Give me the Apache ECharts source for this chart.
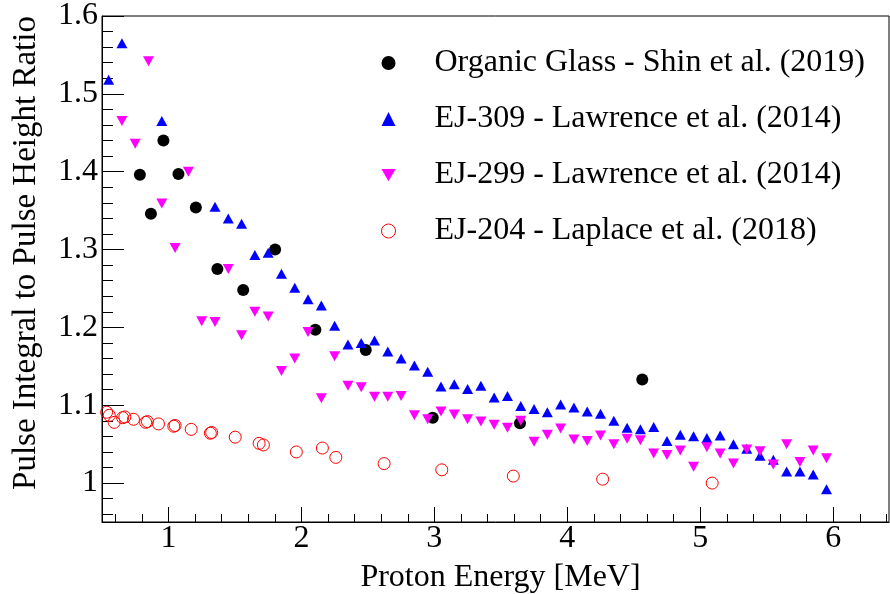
<!DOCTYPE html>
<html>
<head>
<meta charset="utf-8">
<script src="https://cdn.jsdelivr.net/npm/echarts@6/dist/echarts.min.js"></script>
<style>
html, body { margin: 0; padding: 0; background: #fff; }
#chart { width: 890px; height: 594px; }
</style>
</head>
<body>
<div id="chart"></div>
<script>
// ---- Data ----
const seriesNames = [
  "Organic Glass - Shin et al. (2019)",
  "EJ-309 - Lawrence et al. (2014)",
  "EJ-299 - Lawrence et al. (2014)",
  "EJ-204 - Laplace et al. (2018)"
];

const glassX = [0.785, 0.868, 0.962, 1.075, 1.206, 1.368, 1.562, 1.802, 2.105, 2.484, 2.988, 3.644, 4.564];
const glassY = [1.396, 1.346, 1.440, 1.397, 1.354, 1.275, 1.248, 1.300, 1.197, 1.171, 1.084, 1.077, 1.133];

const ej309X = [0.55, 0.65, 0.95, 1.35, 1.45, 1.55, 1.65, 1.75, 1.85, 1.95, 2.05, 2.15, 2.25, 2.35, 2.45, 2.55, 2.65, 2.75, 2.85, 2.95,
  3.05, 3.15, 3.25, 3.35, 3.45, 3.55, 3.65, 3.75, 3.85, 3.95, 4.05, 4.15, 4.25, 4.35, 4.45, 4.55, 4.65, 4.75, 4.85, 4.95,
  5.05, 5.15, 5.25, 5.35, 5.45, 5.55, 5.65, 5.75, 5.85, 5.95];
const ej309Y = [1.518, 1.565, 1.465, 1.355, 1.340, 1.333, 1.293, 1.296, 1.269, 1.251, 1.236, 1.228, 1.202, 1.178, 1.180, 1.183, 1.169, 1.160, 1.151, 1.143,
  1.124, 1.127, 1.121, 1.125, 1.110, 1.112, 1.099, 1.095, 1.091, 1.101, 1.097, 1.092, 1.089, 1.080, 1.071, 1.069, 1.072, 1.054, 1.062, 1.060,
  1.058, 1.061, 1.050, 1.044, 1.035, 1.030, 1.015, 1.015, 1.011, 0.992];

const ej299X = [0.65, 0.75, 0.85, 0.95, 1.05, 1.15, 1.25, 1.35, 1.45, 1.55, 1.65, 1.75, 1.85, 1.95, 2.05, 2.15, 2.25, 2.35, 2.45, 2.55, 2.65, 2.75, 2.85, 2.95,
  3.05, 3.15, 3.25, 3.35, 3.45, 3.55, 3.65, 3.75, 3.85, 3.95, 4.05, 4.15, 4.25, 4.35, 4.45, 4.55, 4.65, 4.75, 4.85, 4.95,
  5.05, 5.15, 5.25, 5.35, 5.45, 5.55, 5.65, 5.75, 5.85, 5.95];
const ej299Y = [1.465, 1.436, 1.542, 1.359, 1.302, 1.400, 1.208, 1.207, 1.275, 1.190, 1.220, 1.214, 1.144, 1.160, 1.194, 1.109, 1.163, 1.125, 1.123, 1.111, 1.111, 1.112, 1.087, 1.082,
  1.092, 1.088, 1.082, 1.079, 1.075, 1.071, 1.080, 1.053, 1.062, 1.070, 1.056, 1.054, 1.061, 1.050, 1.057, 1.055, 1.038, 1.036, 1.042, 1.021,
  1.046, 1.038, 1.025, 1.043, 1.041, 1.024, 1.050, 1.027, 1.042, 1.032];

const ej204X = [0.535, 0.555, 0.592, 0.655, 0.672, 0.737, 0.828, 0.842, 0.925, 1.040, 1.050, 1.171, 1.315, 1.325, 1.502, 1.682, 1.714, 1.962, 2.158, 2.259, 2.622, 3.056, 3.594, 4.266, 5.090];
const ej204Y = [1.091, 1.087, 1.078, 1.084, 1.085, 1.082, 1.078, 1.079, 1.076, 1.073, 1.074, 1.069, 1.064, 1.065, 1.059, 1.051, 1.049, 1.040, 1.045, 1.033, 1.025, 1.017, 1.009, 1.005, 1.000];

const xTickValues = [1, 2, 3, 4, 5, 6];
const yTickValues = [1.0, 1.1, 1.2, 1.3, 1.4, 1.5, 1.6];

// ---- helpers ----
function zip(xs, ys) { return xs.map((x, i) => [x, ys[i]]); }
function minorTicks(start, end, step, majors) {
  const out = [];
  const n = Math.round((end - start) / step);
  for (let i = 0; i <= n; i++) {
    const v = +(start + i * step).toFixed(4);
    if (!majors.some(m => Math.abs(m - v) < 1e-6)) out.push(v);
  }
  return out;
}
const xMinor = minorTicks(0.6, 6.4, 0.2, xTickValues);
const yMinor = minorTicks(0.96, 1.58, 0.02, yTickValues);

const FONT = '"Liberation Serif", "DejaVu Serif", serif';
const DOWN_TRI = 'path://M0,0L2,0L1,1.75Z';

const xMin = 0.5, xMax = 6.42, yMin = 0.95, yMax = 1.6;

const chart = echarts.init(document.getElementById('chart'), null, { renderer: 'canvas' });

const baseXAxis = {
  type: 'value', min: xMin, max: xMax, position: 'bottom',
  splitLine: { show: false }
};
const baseYAxis = {
  type: 'value', min: yMin, max: yMax, position: 'left',
  splitLine: { show: false }
};

chart.setOption({
  animation: false,
  backgroundColor: '#ffffff',
  textStyle: { fontFamily: FONT, color: '#000' },
  grid: {
    left: 102, right: 1, top: 16, bottom: 72,
    show: true, borderColor: '#000', borderWidth: 1,
    containLabel: false, outerBoundsMode: 'none'
  },
  legend: {
    orient: 'vertical',
    left: 376, top: 42,
    itemWidth: 14, itemHeight: 14,
    itemGap: 24,
    selectedMode: false,
    textStyle: { fontFamily: FONT, fontSize: 32, color: '#000', lineHeight: 32, padding: [0, 0, 0, 34] },
    data: [
      { name: seriesNames[0], icon: 'circle', itemStyle: { color: '#000', opacity: 1 } },
      { name: seriesNames[1], icon: 'triangle', itemStyle: { color: '#0000ff', opacity: 1 } },
      { name: seriesNames[2], icon: DOWN_TRI, itemStyle: { color: '#ff00ff', opacity: 1 } },
      { name: seriesNames[3], icon: 'circle', itemStyle: { color: 'rgba(0,0,0,0)', borderColor: '#ff0000', borderWidth: 1, opacity: 1 } }
    ]
  },
  xAxis: [
    Object.assign({}, baseXAxis, {
      name: 'Proton Energy [MeV]',
      nameLocation: 'middle', nameGap: 40, nameMoveOverlap: false,
      nameTextStyle: { fontFamily: FONT, fontSize: 32, color: '#000', padding: [0, 0, 0, 10] },
      axisLine: { show: true, lineStyle: { color: '#000', width: 1 } },
      axisTick: { show: true, inside: true, length: 15, customValues: xTickValues, lineStyle: { color: '#000', width: 1 } },
      axisLabel: { show: true, customValues: xTickValues, margin: 1, fontFamily: FONT, fontSize: 32, color: '#000' }
    }),
    Object.assign({}, baseXAxis, {
      axisLine: { show: false },
      axisTick: { show: true, inside: true, length: 8, customValues: xMinor, lineStyle: { color: '#000', width: 1 } },
      axisLabel: { show: false }
    })
  ],
  yAxis: [
    Object.assign({}, baseYAxis, {
      name: 'Pulse Integral to Pulse Height Ratio',
      nameLocation: 'middle', nameGap: 59, nameMoveOverlap: false,
      nameTextStyle: { fontFamily: FONT, fontSize: 33, color: '#000', padding: [0, 0, 0, 32] },
      axisLine: { show: true, lineStyle: { color: '#000', width: 1 } },
      axisTick: { show: true, inside: true, length: 22, customValues: yTickValues, lineStyle: { color: '#000', width: 1 } },
      axisLabel: { show: true, customValues: yTickValues, margin: 4, fontFamily: FONT, fontSize: 32, color: '#000' }
    }),
    Object.assign({}, baseYAxis, {
      axisLine: { show: false },
      axisTick: { show: true, inside: true, length: 11, customValues: yMinor, lineStyle: { color: '#000', width: 1 } },
      axisLabel: { show: false }
    })
  ],
  series: [
    {
      name: seriesNames[0], type: 'scatter', xAxisIndex: 0, yAxisIndex: 0,
      symbol: 'circle', symbolSize: 12,
      itemStyle: { color: '#000', opacity: 1 },
      emphasis: { disabled: true },
      data: zip(glassX, glassY)
    },
    {
      name: seriesNames[1], type: 'scatter', xAxisIndex: 0, yAxisIndex: 0,
      symbol: 'triangle', symbolSize: [11, 10],
      itemStyle: { color: '#0000ff', opacity: 1 },
      emphasis: { disabled: true },
      data: zip(ej309X, ej309Y)
    },
    {
      name: seriesNames[2], type: 'scatter', xAxisIndex: 0, yAxisIndex: 0,
      symbol: DOWN_TRI, symbolSize: [11, 10],
      itemStyle: { color: '#ff00ff', opacity: 1 },
      emphasis: { disabled: true },
      data: zip(ej299X, ej299Y)
    },
    {
      name: seriesNames[3], type: 'scatter', xAxisIndex: 0, yAxisIndex: 0,
      symbol: 'circle', symbolSize: 12,
      itemStyle: { color: 'rgba(0,0,0,0)', borderColor: '#ff0000', borderWidth: 1, opacity: 1 },
      emphasis: { disabled: true },
      data: zip(ej204X, ej204Y)
    }
  ]
});
</script>
</body>
</html>
